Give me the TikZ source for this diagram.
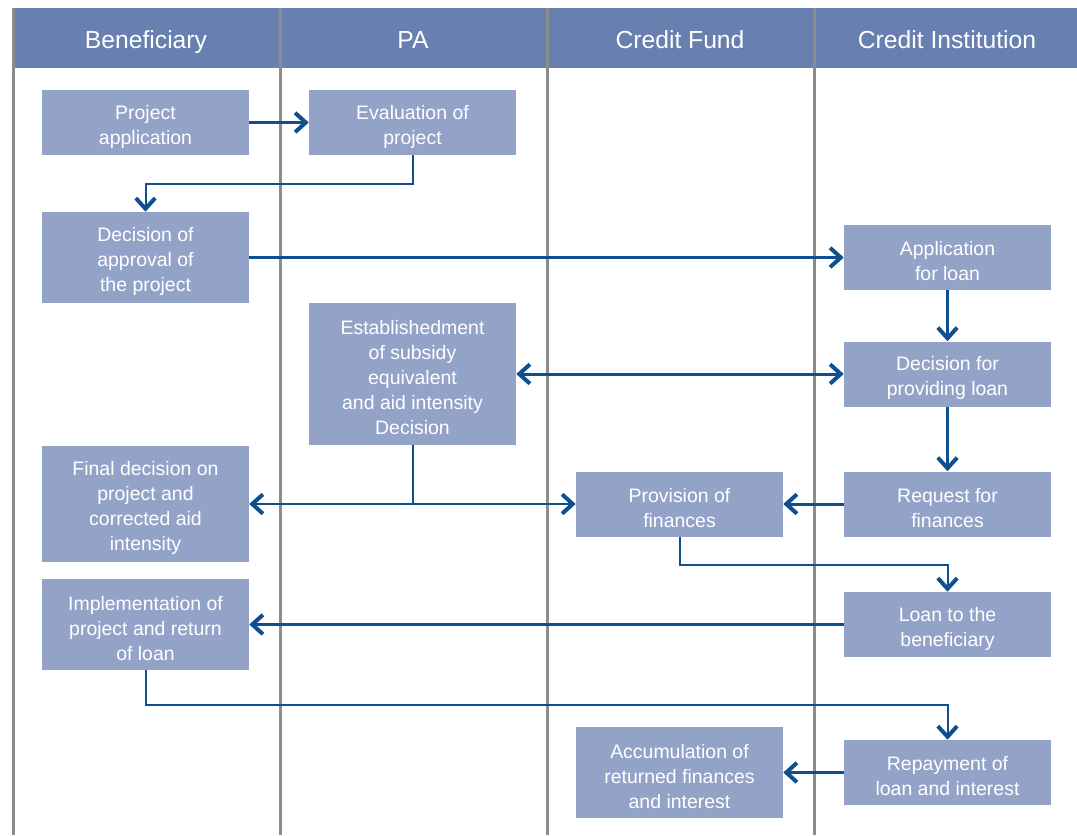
\documentclass[tikz,border=0pt]{standalone}
\usepackage{fontspec}
\setmainfont{Liberation Sans}
\usetikzlibrary{arrows.meta,calc}
\definecolor{hdr}{HTML}{6780B0}
\definecolor{boxc}{HTML}{93A3C7}
\definecolor{arr}{HTML}{0F4E8F}
\definecolor{lane}{HTML}{8C8C8C}
\tikzset{
  proc/.style={fill=boxc, draw=none, minimum width=207*0.75pt, inner sep=0pt},
  ptext/.style={align=center, text=white, inner sep=0pt, yshift=-3pt,
    font=\fontsize{14.6}{18.75}\selectfont},
  hdrtext/.style={text=white, font=\fontsize{18.5}{22}\selectfont, inner sep=0pt, anchor=base},
  lanel/.style={draw=lane, line width=2.25pt},
  tip/.tip={Straight Barb[length=8pt,width=14.5pt,line width=3pt]},
  flow/.style={draw=arr, line width=2.25pt, -tip},
  thinflow/.style={draw=arr, line width=1.5pt, -tip},
  thinline/.style={draw=arr, line width=1.5pt},
  bothflow/.style={draw=arr, line width=2.25pt, tip-tip}
}
\begin{document}
\begin{tikzpicture}[x=0.75pt,y=-0.75pt]
\useasboundingbox (0,0) rectangle (1077,835);
% header
\fill[hdr] (12,8) rectangle (1077,68);
\foreach \xx in {13,280,547,814} { \draw[lanel] (\xx,8) -- (\xx,835); }
\node[hdrtext] (h1) at (146,48.5) {Beneficiary};
\node[hdrtext] (h2) at (413,48.5) {PA};
\node[hdrtext] (h3) at (680,48.5) {Credit Fund};
\node[hdrtext] (h4) at (947,48.5) {Credit Institution};
% boxes
\node[proc, minimum height=65*0.75pt, label={[ptext]center:{Project\\application}}] (b1) at (145.5,122.5) {};
\node[proc, minimum height=65*0.75pt, label={[ptext]center:{Evaluation of\\project}}] (b2) at (412.5,122.5) {};
\node[proc, minimum height=91*0.75pt, label={[ptext]center:{Decision of\\approval of\\the project}}] (b3) at (145.5,257.5) {};
\node[proc, minimum height=65*0.75pt, label={[ptext]center:{Application\\for loan}}] (b4) at (947.5,257.5) {};
\node[proc, minimum height=142*0.75pt, label={[ptext]center:{Establishedment\\of subsidy\\equivalent\\and aid intensity\\Decision}}] (b5) at (412.5,374) {};
\node[proc, minimum height=65*0.75pt, label={[ptext]center:{Decision for\\providing loan}}] (b6) at (947.5,374) {};
\node[proc, minimum height=116*0.75pt, label={[ptext]center:{Final decision on\\project and\\corrected aid\\intensity}}] (b7) at (145.5,504) {};
\node[proc, minimum height=65*0.75pt, label={[ptext]center:{Provision of\\finances}}] (b8) at (679.5,504) {};
\node[proc, minimum height=65*0.75pt, label={[ptext]center:{Request for\\finances}}] (b9) at (947.5,504) {};
\node[proc, minimum height=91*0.75pt, label={[ptext]center:{Implementation of\\project and return\\of loan}}] (b10) at (145.5,624.5) {};
\node[proc, minimum height=65*0.75pt, label={[ptext]center:{Loan to the\\beneficiary}}] (b11) at (947.5,624.5) {};
\node[proc, minimum height=91*0.75pt, label={[ptext]center:{Accumulation of\\returned finances\\and interest}}] (b12) at (679.5,772.5) {};
\node[proc, minimum height=65*0.75pt, label={[ptext]center:{Repayment of\\loan and interest}}] (b13) at (947.5,772.5) {};
% connectors
\draw[flow] (b1.east) -- (b2.west);
\draw[thinflow] (b2.south) -- ++(0,29) -| (b3.north);
\draw[flow] (b3.east) -- (b4.west);
\draw[flow] (b4.south) -- (b6.north);
\draw[bothflow] (b5.east) -- (b6.west);
\draw[flow] (b6.south) -- (b9.north);
\coordinate (j5) at (412.5,504);
\draw[thinline] (b5.south) -- (j5);
\draw[thinflow] (j5) -- (b7.east);
\draw[thinflow] (j5) -- (b8.west);
\draw[flow] (b9.west) -- (b8.east);
\draw[thinflow] (b8.south) -- ++(0,28) -| (b11.north);
\draw[flow] (b11.west) -- (b10.east);
\draw[thinflow] (b10.south) -- ++(0,35) -| (b13.north);
\draw[flow] (b13.west) -- (b12.east);
\end{tikzpicture}
\end{document}
